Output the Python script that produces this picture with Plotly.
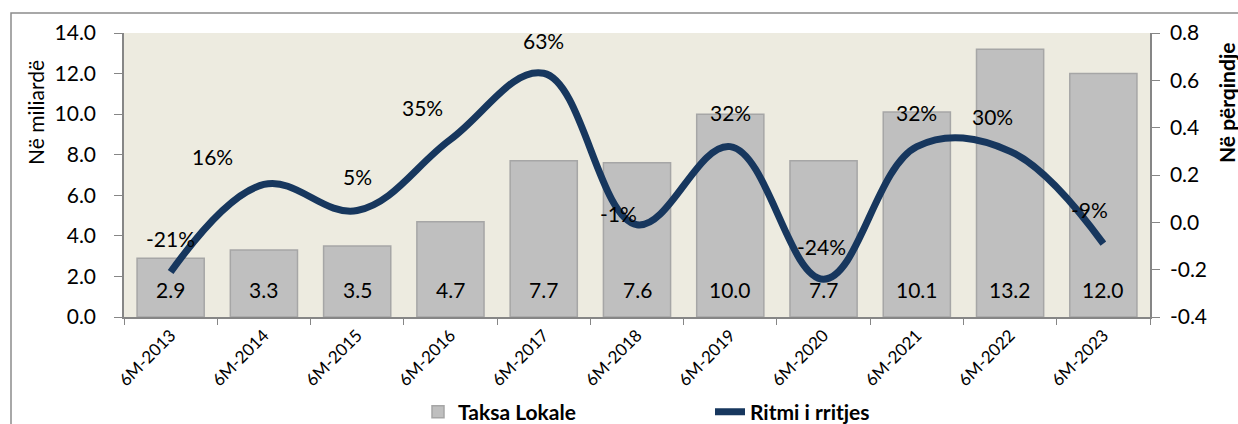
import plotly.graph_objects as go

categories = ["6M-2013", "6M-2014", "6M-2015", "6M-2016", "6M-2017", "6M-2018",
              "6M-2019", "6M-2020", "6M-2021", "6M-2022", "6M-2023"]
taksa_lokale = [2.9, 3.3, 3.5, 4.7, 7.7, 7.6, 10.0, 7.7, 10.1, 13.2, 12.0]
ritmi_rritjes = [-0.21, 0.16, 0.05, 0.35, 0.63, -0.01, 0.32, -0.24, 0.32, 0.30, -0.09]
left_ticks = [0, 2, 4, 6, 8, 10, 12, 14]
right_ticks = [-0.4, -0.2, 0.0, 0.2, 0.4, 0.6, 0.8]

# label offsets (pixels), style only
pct_dx = [0, -51, 0, -28, 0, -19, 0, -2, 0, -18, -14]
pct_dy = [34, 28, 34, 32, 33, 11, 34, 33, 34, 35, 34]

FONT = "Lato"
W, H = 1238, 424
L, R, T, B = 124, 88, 33, 107
PW, PH = W - L - R, H - T - B

def px_x(p):
    return (p - L) / PW

def px_y(p):
    return 1 - (p - T) / PH

fig = go.Figure()
fig.add_trace(go.Bar(
    x=categories, y=taksa_lokale, name="Taksa Lokale",
    marker=dict(color="#BFBFBF", line=dict(color="#A6A6A6", width=1.5)),
    yaxis="y",
))
fig.add_trace(go.Scatter(
    x=categories, y=ritmi_rritjes, name="Ritmi i rritjes", mode="lines",
    line=dict(color="#17375E", width=7, shape="spline", smoothing=1.1),
    yaxis="y2",
))

annotations = []
for c, v in zip(categories, taksa_lokale):
    annotations.append(dict(x=c, y=0, xref="x", yref="y", text=f"{v:.1f}",
                            showarrow=False, yanchor="middle", yshift=28,
                            font=dict(family=FONT, size=21, color="#000000")))
for c, v, dx, dy in zip(categories, ritmi_rritjes, pct_dx, pct_dy):
    annotations.append(dict(x=c, y=v, xref="x", yref="y2", text=f"{round(v*100)}%",
                            showarrow=False, xshift=dx, yshift=dy,
                            font=dict(family=FONT, size=21, color="#000000")))
annotations.append(dict(x=px_x(35), y=px_y(113), xref="paper", yref="paper",
                        xanchor="center", yanchor="middle",
                        text="Në miliardë", textangle=-90, showarrow=False,
                        font=dict(family=FONT, size=21, color="#000000")))
annotations.append(dict(x=px_x(1226), y=px_y(103), xref="paper", yref="paper",
                        xanchor="center", yanchor="middle",
                        text="<b>Në përqindje</b>", textangle=-90, showarrow=False,
                        font=dict(family=FONT, size=21, color="#000000")))

axis_col = "#868686"
fig.update_layout(
    width=W, height=H,
    margin=dict(l=L, r=R, t=T, b=B, autoexpand=False),
    paper_bgcolor="white", plot_bgcolor="#EDEBE0",
    font=dict(family=FONT, color="#000000"),
    bargap=0.28,
    showlegend=True,
    legend=dict(orientation="h", x=px_x(418), y=px_y(412), xanchor="left", yanchor="middle",
                font=dict(family=FONT, size=21, color="#000000", weight="bold"),
                entrywidth=247, entrywidthmode="pixels", bgcolor="rgba(0,0,0,0)"),
    xaxis=dict(type="category", showline=True, linecolor=axis_col, linewidth=1.5,
               ticks="outside", tickson="boundaries", ticklen=6, tickcolor=axis_col,
               tickangle=-45, tickfont=dict(family=FONT, size=17, color="#000000"),
               showgrid=False, mirror=False, automargin=False),
    yaxis=dict(range=[0, 14], tickvals=left_ticks, ticktext=[f"{v:.1f}" for v in left_ticks],
               showline=True, linecolor=axis_col, linewidth=1.5, ticks="outside",
               ticklen=8, tickcolor=axis_col, showgrid=False, zeroline=False, automargin=False,
               tickfont=dict(family=FONT, size=21, color="#000000"), ticklabelstandoff=14),
    yaxis2=dict(range=[-0.4, 0.8], tickvals=right_ticks, ticktext=[f"{v:.1f}" for v in right_ticks],
                overlaying="y", side="right", showline=True, linecolor=axis_col, linewidth=1.5,
                ticks="outside", ticklen=8, tickcolor=axis_col, showgrid=False, zeroline=False,
                automargin=False,
                tickfont=dict(family=FONT, size=21, color="#000000"), ticklabelstandoff=6),
    annotations=annotations,
    shapes=[dict(type="rect", xref="paper", yref="paper",
                 x0=px_x(11), x1=px_x(1250), y0=px_y(440), y1=px_y(13),
                 line=dict(color="#8C8C8C", width=1.5), fillcolor="rgba(0,0,0,0)", layer="below")],
)

fig.write_html("out.html", config={"displayModeBar": False},
               post_script="document.body.style.margin='0px';document.body.style.overflow='hidden';")
